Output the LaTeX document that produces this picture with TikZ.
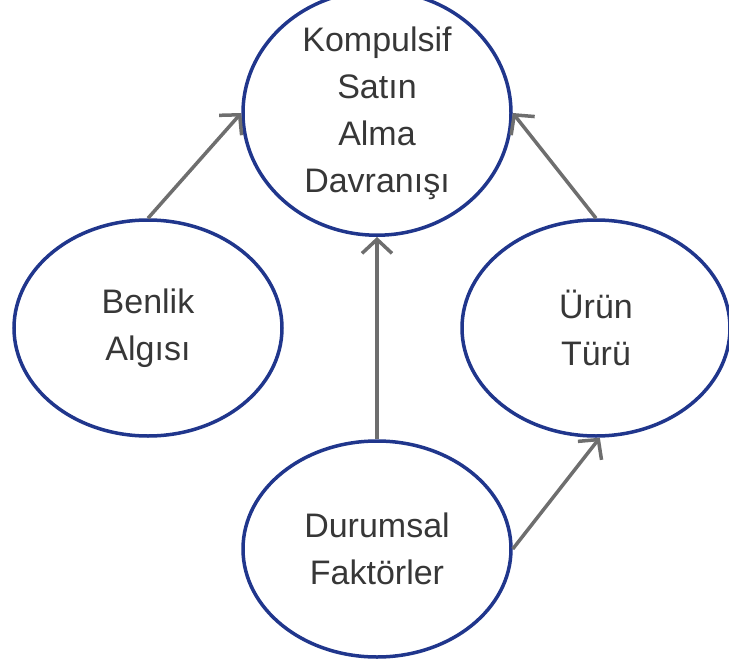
\documentclass[tikz,border=0pt]{standalone}
\usepackage{fontspec}
\setmainfont{Liberation Sans}
\usetikzlibrary{arrows.meta,shapes.geometric}
\definecolor{ellblue}{RGB}{32,54,140}
\definecolor{arrgray}{RGB}{110,110,110}
\definecolor{txtgray}{RGB}{55,55,55}
\begin{document}
\begin{tikzpicture}[x=1pt,y=-1pt,
  oval/.style={ellipse,draw=ellblue,line width=3.5pt,minimum width=268pt,minimum height=216pt,inner sep=0pt,
    align=center,text=txtgray,font=\fontsize{34}{47}\selectfont},
  link/.style={draw=arrgray,line width=3.5pt,-{Straight Barb[length=14pt,width=30pt]}}]
\useasboundingbox (0,0) rectangle (729,664);
\node[oval] (T) at (377,113) {Kompulsif\\Satın\\Alma\\Davranışı};
\node[oval] (B) at (148,328) {Benlik\\Algısı};
\node[oval] (R) at (596,328) {Ürün\\Türü};
\node[oval] (D) at (377,549) {Durumsal\\Faktörler};
\draw[link] (B.north) -- (T.west);
\draw[link] (R.north) -- (T.east);
\draw[link] (D.north) -- (T.south);
\draw[link] (D.east) -- (R.272);
\end{tikzpicture}
\end{document}
